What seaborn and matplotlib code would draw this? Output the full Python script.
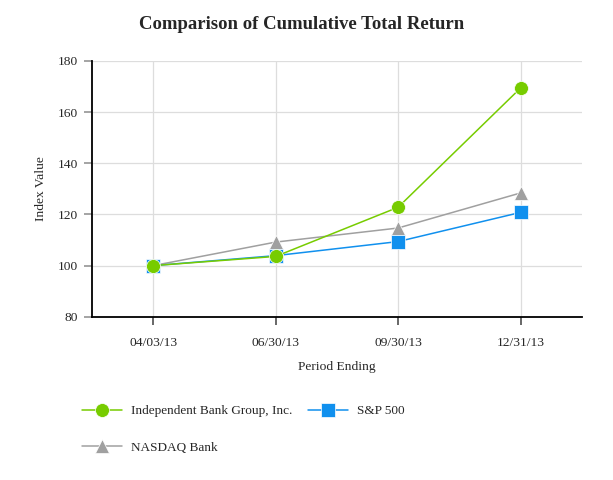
import numpy as np
import pandas as pd
import seaborn as sns
import matplotlib
matplotlib.use('Agg')
import matplotlib.pyplot as plt
from matplotlib.lines import Line2D

periods = ['04/03/13', '06/30/13', '09/30/13', '12/31/13']
ibtx = [100.0, 103.6, 122.8, 169.4]
sp500 = [100.0, 103.9, 109.4, 120.8]
nasdaq_bank = [100.0, 109.2, 114.7, 128.4]

names = ['Independent Bank Group, Inc.', 'S&P 500', 'NASDAQ Bank']
colors = ['#77cc00', '#1090ee', '#a0a0a0']
markers = ['o', 's', '^']
msizes = [10, 9.5, 9.5]

df = pd.DataFrame({
    'period': periods * 3,
    'x': list(range(len(periods))) * 3,
    'value': ibtx + sp500 + nasdaq_bank,
    'series': [names[0]] * 4 + [names[1]] * 4 + [names[2]] * 4,
})

sns.set_theme(style='white')
plt.rcParams['font.family'] = ['Liberation Serif', 'DejaVu Serif']

fig = plt.figure(figsize=(6.13, 4.8), dpi=100)
ax = fig.add_axes([0.150, 0.340, 0.799, 0.533])

# draw back to front: nasdaq, s&p, then ibtx on top
for i in [2, 1, 0]:
    sub = df[df['series'] == names[i]]
    sns.lineplot(data=sub, x='x', y='value', ax=ax, color=colors[i], marker=markers[i],
                 markersize=msizes[i], markeredgecolor='white', markeredgewidth=0.5,
                 linewidth=1.1, label=None, legend=False, zorder=3 + (2 - i))

ax.set_xlim(-0.5, 3.5)
ax.set_ylim(80, 180)
ax.set_xticks(range(len(periods)))
ax.set_xticklabels(periods)
ax.set_yticks([80, 100, 120, 140, 160, 180])
ax.grid(True, color='#dddddd', linewidth=0.9)
ax.set_axisbelow(True)
for s in ['top', 'right']:
    ax.spines[s].set_visible(False)
for s in ['left', 'bottom']:
    ax.spines[s].set_color('black')
    ax.spines[s].set_linewidth(1.3)
ax.tick_params(axis='x', which='both', bottom=True, length=6, color='#555555', labelsize=9.7, pad=8.5)
ax.tick_params(axis='y', which='both', left=True, length=6, color='#999999', labelsize=9.7, pad=4)
ax.set_xlabel('Period Ending', fontsize=9.7, labelpad=9)
ax.set_ylabel('Index Value', fontsize=9.7, labelpad=8)

fig.text(0.492, 0.948, 'Comparison of Cumulative Total Return', ha='center', va='center',
         fontsize=13.5, fontweight='bold')

handles = [Line2D([0], [0], color=colors[i], marker=markers[i], markersize=msizes[i],
                  markeredgecolor='white', markeredgewidth=0.5, linewidth=1.1)
           for i in range(3)]
order = [0, 2, 1]
fig.legend([handles[i] for i in order], [names[i] for i in order], ncol=2,
           loc='upper left', bbox_to_anchor=(0.115, 0.181), frameon=False,
           fontsize=9.5, handlelength=3.0, columnspacing=1.2, labelspacing=1.85,
           handletextpad=0.68)

fig.savefig('out.png', dpi=100)
